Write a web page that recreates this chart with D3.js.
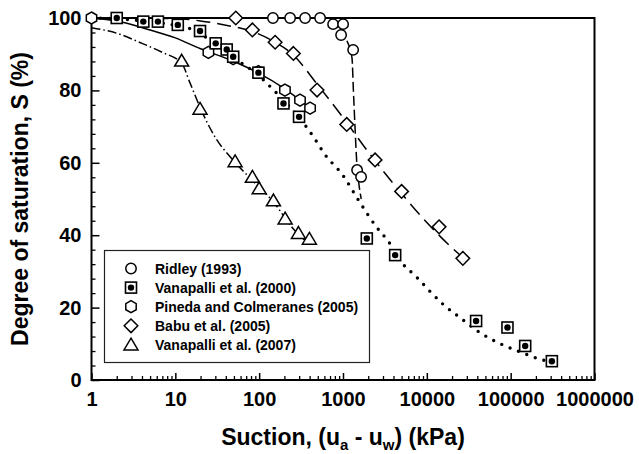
<!DOCTYPE html>
<html>
<head>
<meta charset="utf-8">
<script src="https://cdn.jsdelivr.net/npm/d3@7"></script>
<style>
  body { margin: 0; background: #fff; }
  text { font-family: "Liberation Sans", Arial, sans-serif; font-weight: bold; }
</style>
</head>
<body>
<div class="chart"></div>
<script>
// measured points, [suction kPa, saturation %]
var ridley = [[146, 100], [234, 100], [353, 100], [533, 100], [762, 98.3], [1003, 98.3], [949, 95.3], [1321, 91.2], [1473, 58.0], [1644, 56.1]];
var vanapalli2000 = [[2.0, 100], [4.15, 99.0], [6.2, 99.0], [10.7, 98.1], [19.7, 96.4], [30.3, 93.0], [41, 91.3], [49, 89.3], [98, 84.9], [195, 76.4], [299, 72.7], [1923, 39.1], [4190, 34.5], [38700, 16.3], [91600, 14.5], [149000, 9.4], [310000, 5.2]];
var pineda = [[1, 100], [24.8, 90.5], [49, 88.8], [98, 85.2], [203, 80.1], [307, 77.3], [405, 75.1]];
var babu = [[52.6, 100], [83, 96.7], [155, 93.3], [256, 90.2], [490, 80.1], [1108, 70.6], [2413, 60.8], [5000, 52.1], [14000, 42.3], [26900, 33.6]];
var vanapalli2007 = [[11.9, 88.1], [19.7, 74.8], [51.6, 60.3], [83, 56.0], [100, 52.8], [148, 49.5], [204, 44.5], [294, 40.5], [397, 38.9]];

// fitted curves
var ridleyFit = [[1, 100], [533, 100], [700, 99.3], [900, 97.5], [1100, 94], [1280, 89], [1330, 80], [1390, 70], [1460, 60], [1550, 54], [1650, 50]];
var vanapalli2000Fit = [[1, 100], [3, 99.5], [10, 98], [14, 97.3], [20, 95.5], [30, 93], [50, 89], [100, 84], [150, 80], [200, 77], [300, 72.5], [450, 67], [600, 62.5], [1000, 56.5], [1500, 50], [2500, 42.3], [3500, 38.2], [5000, 32.5], [7500, 28.5], [11000, 24.4], [16000, 20.7], [24000, 17.5], [43000, 13.1], [74000, 10.1], [128000, 7.8], [245000, 5.5], [310000, 5]];
var pinedaFit = [[1, 100], [2, 99.2], [5, 96.7], [10, 94.5], [20, 91.5], [50, 88], [100, 84.7], [200, 80.5], [405, 75.1]];
var babuFit = [[1, 100], [10, 99.8], [20, 99.2], [40, 98], [80, 96.4], [150, 93.5], [250, 90], [500, 81.5], [1000, 72.5], [2000, 63], [5000, 51.5], [10000, 43.5], [20000, 36.5], [28000, 33.5]];
var vanapalli2007Fit = [[1, 97.3], [2, 95.8], [4, 93], [7, 90.5], [11.9, 87.5], [15, 82], [20, 75], [30, 67], [50, 60.5], [80, 55.5], [150, 49], [250, 42], [400, 37.5]];

var legendLabels = ["Ridley (1993)", "Vanapalli et al. (2000)", "Pineda and Colmeranes (2005)", "Babu et al. (2005)", "Vanapalli et al. (2007)"];
var legendShapes = ["circle", "squaredot", "hexagon", "diamond", "triangle"];

var xMajor = [1, 10, 100, 1000, 10000, 100000, 1000000];
var yMajor = [0, 20, 40, 60, 80, 100];

function drawChart() {
    var w = 639;
    var h = 454;

    var svg = d3.select(".chart")
        .append("svg")
        .attr("width", w)
        .attr("height", h);

    var x = d3.scaleLog().domain([1, 1e6]).range([91.5, 594.5]);
    var y = d3.scaleLinear().domain([0, 100]).range([380, 18]);

    var xMinor = [];
    xMajor.slice(0, -1).forEach(function (d) {
        for (var k = 2; k <= 9; k++) xMinor.push(d * k);
    });
    var yMinor = d3.range(0, 101, 4).filter(function (d) { return d % 20 !== 0; });

    // minor ticks
    svg.append("g")
        .attr("transform", "translate(0,380)")
        .call(d3.axisBottom(x).tickValues(xMinor).tickSize(-4).tickSizeOuter(0).tickFormat(""))
        .call(function (g) { g.select(".domain").remove(); })
        .selectAll("line").attr("stroke-width", 1.3);
    svg.append("g")
        .attr("transform", "translate(91.5,0)")
        .call(d3.axisLeft(y).tickValues(yMinor).tickSize(-4).tickSizeOuter(0).tickFormat(""))
        .call(function (g) { g.select(".domain").remove(); })
        .selectAll("line").attr("stroke-width", 1.3);

    // major ticks with labels
    var xAxis = svg.append("g")
        .attr("transform", "translate(0,380)")
        .call(d3.axisBottom(x).tickValues(xMajor).tickSize(-7).tickSizeOuter(0).tickPadding(12)
            .tickFormat(function (d) { return d3.format("d")(d); }));
    xAxis.select(".domain").remove();
    xAxis.selectAll("line").attr("stroke-width", 1.5);
    xAxis.selectAll("text").attr("font-size", 20).attr("fill", "#000")
        .style("font-family", "'Liberation Sans', Arial, sans-serif");

    var yAxis = svg.append("g")
        .attr("transform", "translate(91.5,0)")
        .call(d3.axisLeft(y).tickValues(yMajor).tickSize(-8).tickSizeOuter(0).tickPadding(10));
    yAxis.select(".domain").remove();
    yAxis.selectAll("line").attr("stroke-width", 1.5);
    yAxis.selectAll("text").attr("font-size", 20).attr("fill", "#000")
        .style("font-family", "'Liberation Sans', Arial, sans-serif");

    // frame
    svg.append("rect")
        .attr("x", x(1)).attr("y", y(100))
        .attr("width", x(1e6) - x(1)).attr("height", y(0) - y(100))
        .attr("fill", "none").attr("stroke", "#000").attr("stroke-width", 2);

    // axis titles
    var xt = svg.append("text")
        .attr("x", (x(1) + x(1e6)) / 2).attr("y", 445)
        .attr("text-anchor", "middle").attr("font-size", 23);
    xt.append("tspan").text("Suction, (u");
    xt.append("tspan").text("a").attr("font-size", 15).attr("dy", 5);
    xt.append("tspan").text(" - u").attr("dy", -5);
    xt.append("tspan").text("w").attr("font-size", 15).attr("dy", 5);
    xt.append("tspan").text(") (kPa)").attr("dy", -5);

    svg.append("text")
        .attr("transform", "translate(20," + ((y(0) + y(100)) / 2) + ") rotate(-90)")
        .attr("text-anchor", "middle").attr("dominant-baseline", "central")
        .attr("font-size", 23)
        .text("Degree of saturation, S (%)");

    // fitted lines
    var line = d3.line()
        .x(function (d) { return x(d[0]); })
        .y(function (d) { return y(d[1]); })
        .curve(d3.curveMonotoneX);

    var fits = [
        { data: pinedaFit, dash: null, width: 1.5, cap: "butt" },
        { data: ridleyFit, dash: "10,4", width: 1.5, cap: "butt" },
        { data: babuFit, dash: "14,7", width: 1.5, cap: "butt" },
        { data: vanapalli2000Fit, dash: "0,9", width: 3.4, cap: "round" },
        { data: vanapalli2007Fit, dash: "9,3,1.5,3", width: 1.5, cap: "butt" }
    ];
    svg.append("g").selectAll("path")
        .data(fits)
        .enter().append("path")
        .attr("d", function (d) { return line(d.data); })
        .attr("fill", "none")
        .attr("stroke", "#000")
        .attr("stroke-width", function (d) { return d.width; })
        .attr("stroke-linecap", function (d) { return d.cap; })
        .attr("stroke-dasharray", function (d) { return d.dash; });

    // markers
    function shape(g, type, cx, cy) {
        var p;
        if (type === "circle") {
            g.append("circle").attr("cx", cx).attr("cy", cy).attr("r", 5.2)
                .attr("fill", "#fff").attr("stroke", "#000").attr("stroke-width", 1.5);
        } else if (type === "squaredot") {
            g.append("rect").attr("x", cx - 5.5).attr("y", cy - 5.5).attr("width", 11).attr("height", 11)
                .attr("fill", "#fff").attr("stroke", "#000").attr("stroke-width", 1.6);
            g.append("circle").attr("cx", cx).attr("cy", cy).attr("r", 3.2).attr("fill", "#000");
        } else if (type === "hexagon") {
            p = d3.range(6).map(function (i) {
                var a = Math.PI / 3 * i - Math.PI / 2;
                return [cx + 6 * Math.cos(a), cy + 6 * Math.sin(a)];
            });
            g.append("path").attr("d", "M" + p.join("L") + "Z")
                .attr("fill", "#fff").attr("stroke", "#000").attr("stroke-width", 1.5);
        } else if (type === "diamond") {
            p = [[cx, cy - 6.8], [cx + 6.8, cy], [cx, cy + 6.8], [cx - 6.8, cy]];
            g.append("path").attr("d", "M" + p.join("L") + "Z")
                .attr("fill", "#fff").attr("stroke", "#000").attr("stroke-width", 1.5);
        } else if (type === "triangle") {
            p = [[cx, cy - 6.8], [cx + 7, cy + 5], [cx - 7, cy + 5]];
            g.append("path").attr("d", "M" + p.join("L") + "Z")
                .attr("fill", "#fff").attr("stroke", "#000").attr("stroke-width", 1.5);
        }
    }

    var series = [
        { data: babu, type: "diamond" },
        { data: ridley, type: "circle" },
        { data: vanapalli2007, type: "triangle" },
        { data: pineda, type: "hexagon" },
        { data: vanapalli2000, type: "squaredot" }
    ];
    series.forEach(function (s) {
        var g = svg.append("g");
        s.data.forEach(function (d) { shape(g, s.type, x(d[0]), y(d[1])); });
    });

    // legend
    var legend = svg.append("g");
    legend.append("rect")
        .attr("x", 104.5).attr("y", 250.5).attr("width", 265).attr("height", 112)
        .attr("fill", "#fff").attr("stroke", "#222").attr("stroke-width", 1.2);
    legendLabels.forEach(function (label, i) {
        var ly = 268.5 + i * 19.1;
        shape(legend, legendShapes[i], 131, ly);
        legend.append("text")
            .attr("x", 155).attr("y", ly).attr("dominant-baseline", "central")
            .attr("font-size", 14).text(label);
    });
}

drawChart();
</script>
</body>
</html>
